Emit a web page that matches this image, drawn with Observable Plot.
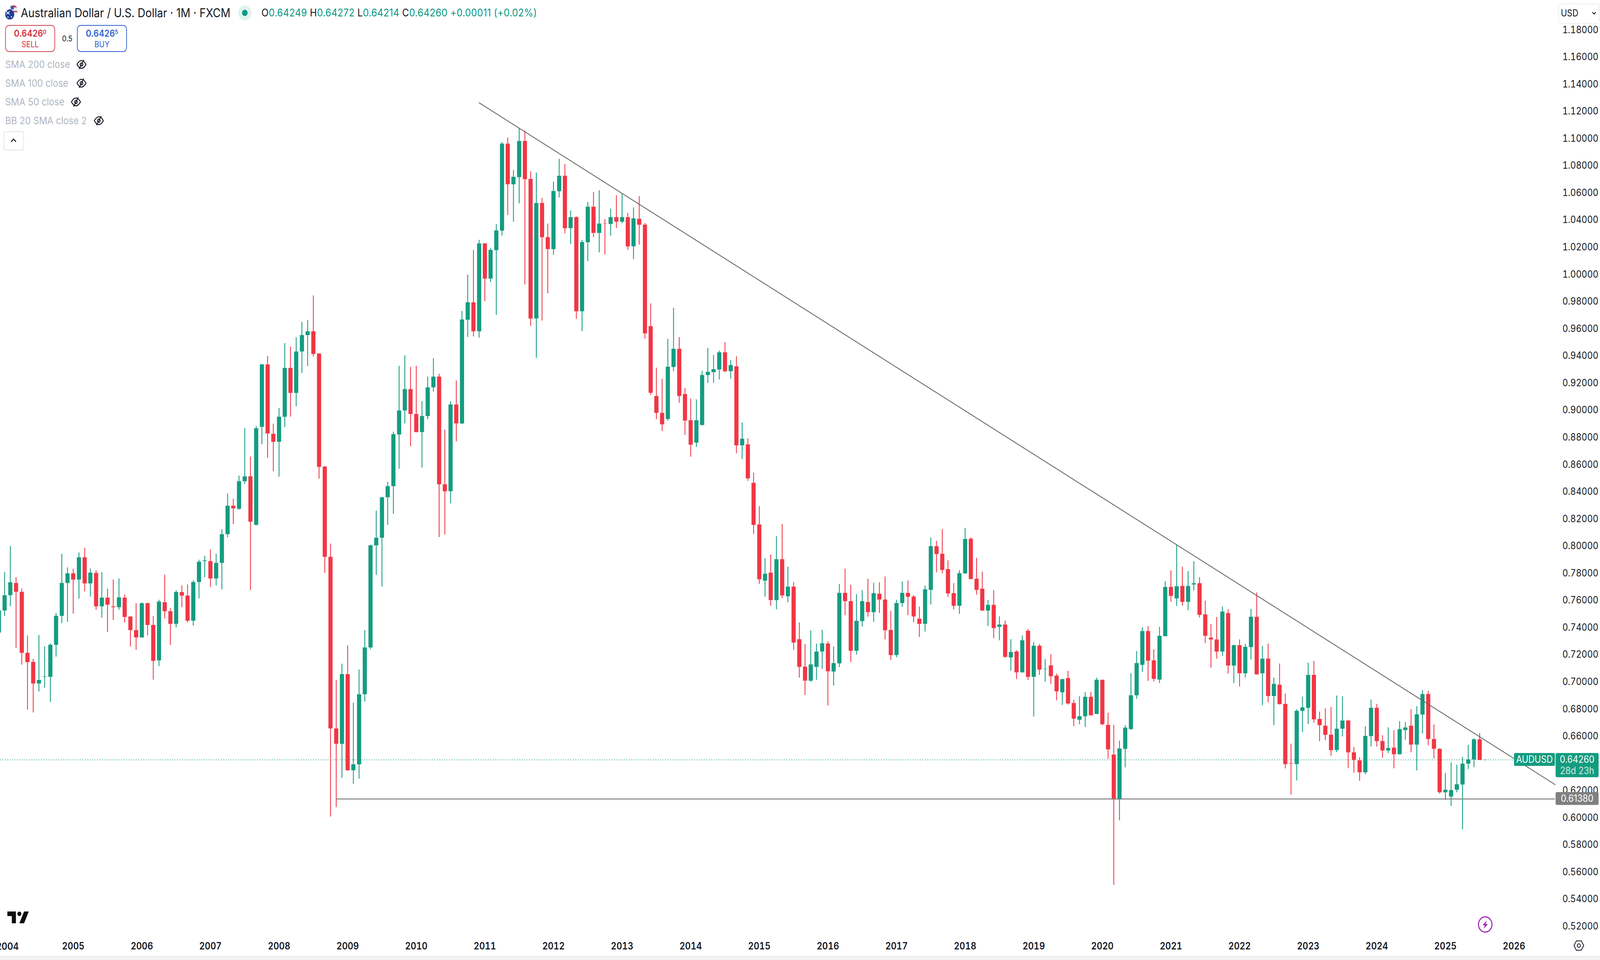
<!DOCTYPE html>
<html lang="en">
<head>
<meta charset="utf-8">
<title>AUDUSD monthly</title>
<script src="https://cdn.jsdelivr.net/npm/d3@7"></script>
<script src="https://cdn.jsdelivr.net/npm/@observablehq/plot@0.6"></script>
<style>
html,body{margin:0;padding:0;background:#fff;overflow:hidden}
#wrap{position:relative;width:4614px;height:2458px;font-family:Inter,"Noto Sans",sans-serif;color:#131722;overflow:hidden;transform-origin:0 0}
#wrap svg.plot-root{display:block}
.a{position:absolute;white-space:nowrap;line-height:1}
.chip{position:absolute;border-radius:4px;color:#fff;font-size:25px;text-align:center}
sup{font-size:.62em;vertical-align:baseline;position:relative;top:-.45em}
</style>
</head>
<body>
<div id="wrap"></div>
<script>
// Monthly candles: first entry is Dec 2003, then Jan 2004 ... Aug 2025
const opens = [.7362,
.7524,.7637,.7727,.7662,.7213,.7146,.6987,.7036,.7036,.7272,.7485,.7727,
.7798,.7752,.7916,.7724,.7801,.7555,.7619,.7555,.7549,.7619,.7480,.7380,
.7326,.7578,.7418,.7157,.7585,.7519,.7426,.7660,.7634,.7449,.7734,.7888,
.7888,.7760,.7875,.8086,.8296,.8273,.8476,.8512,.8155,.8877,.9336,.8825,
.8766,.8951,.9310,.9126,.9431,.9552,.9580,.9416,.8584,.7919,.6656,.6543,
.7056,.6348,.6392,.6908,.7252,.8004,.8060,.8358,.8440,.8820,.8997,.9154,
.8971,.8838,.8956,.9167,.9246,.8453,.8402,.9041,.8901,.9665,.9793,.9580,
1.0227,.9968,1.0177,1.0321,1.0961,1.0662,1.0715,1.0981,1.0702,.9674,1.0524,1.0273,
1.0185,1.0611,1.0725,1.0339,1.0420,.9727,1.0235,1.0497,1.0304,1.0375,1.0370,1.0420,
1.0387,1.0420,1.0205,1.0408,1.0365,.9618,.9103,.8979,.8934,.9317,.9451,.9118,
.8925,.8760,.8890,.9258,.9279,.9299,.9425,.9286,.9322,.8740,.8747,.8464,
.8158,.7744,.7803,.7601,.7902,.7629,.7700,.7313,.7111,.7008,.7109,.7222,
.7281,.7075,.7135,.7654,.7593,.7228,.7446,.7587,.7512,.7648,.7605,.7381,
.7196,.7579,.7654,.7627,.7464,.7426,.7676,.7998,.7942,.7829,.7652,.7559,
.7797,.8052,.7758,.7685,.7524,.7566,.7404,.7421,.7179,.7223,.7069,.7375,
.7036,.7265,.7093,.7120,.7045,.6922,.7027,.6843,.6720,.6746,.6889,.6763,
.7014,.6682,.6464,.6132,.6506,.6651,.6900,.7124,.7373,.7157,.7016,.7335,
.7698,.7613,.7705,.7588,.7716,.7725,.7496,.7325,.7311,.7222,.7505,.7119,
.7269,.7062,.7255,.7478,.7062,.7170,.6895,.6978,.6837,.6400,.6393,.6785,
.6808,.7050,.6726,.6676,.6610,.6497,.6654,.6714,.6480,.6421,.6333,.6600,
.6808,.6563,.6494,.6515,.6466,.6644,.6676,.6537,.6758,.6909,.6578,.6505,
.6186,.6155,.6205,.6243,.6397,.6427,.6576,.64249];
const highs = [.7530,
.7809,.7999,.7770,.7685,.7341,.7169,.7344,.7259,.7282,.7506,.7942,.7842,
.7832,.7952,.7986,.7834,.7821,.7806,.7685,.7752,.7760,.7642,.7482,.7578,
.7583,.7583,.7483,.7603,.7788,.7542,.7673,.7709,.7716,.7747,.7898,.7927,
.7975,.7942,.8122,.8386,.8348,.8517,.8866,.8658,.8882,.9339,.9398,.8900,
.9015,.9493,.9467,.9536,.9649,.9662,.9844,.9418,.8586,.8017,.7013,.7133,
.7267,.6846,.7090,.7380,.8009,.8260,.8361,.8471,.8841,.9326,.9403,.9318,
.9326,.9066,.9246,.9382,.9267,.8856,.9066,.9218,.9730,.9997,1.0179,1.0253,
1.0229,1.0195,1.0369,1.0973,1.1007,1.0768,1.1077,1.1057,1.0758,1.0748,1.0562,1.0373,
1.0682,1.0850,1.0811,1.0469,1.0425,1.0253,1.0532,1.0606,1.0618,1.0405,1.0482,1.0581,
1.0593,1.0451,1.0492,1.0575,1.0377,.9786,.9312,.9230,.9524,.9753,.9537,.9162,
.9085,.9078,.9289,.9458,.9405,.9438,.9500,.9370,.9396,.8908,.8793,.8539,
.8293,.7910,.7936,.8071,.8160,.7847,.7734,.7436,.7278,.7377,.7281,.7383,
.7297,.7258,.7720,.7833,.7714,.7645,.7674,.7758,.7728,.7732,.7775,.7522,
.7603,.7738,.7746,.7637,.7553,.7708,.8063,.8037,.8124,.7894,.7726,.7821,
.8132,.8063,.7912,.7810,.7602,.7674,.7481,.7450,.7313,.7232,.7340,.7388,
.7293,.7278,.7168,.7203,.7060,.7021,.7080,.6867,.6893,.6924,.6926,.7030,
.7016,.6772,.6682,.6566,.6680,.7062,.7226,.7401,.7410,.7239,.7404,.7740,
.7819,.8009,.7846,.7815,.7887,.7769,.7597,.7424,.7476,.7553,.7533,.7273,
.7311,.7279,.7536,.7657,.7264,.7280,.7030,.7134,.6912,.6544,.6798,.6889,
.7140,.7154,.6780,.6804,.6814,.6898,.6893,.6720,.6519,.6444,.6673,.6868,
.6837,.6607,.6664,.6642,.6710,.6703,.6798,.6820,.6939,.6933,.6685,.6512,
.6328,.6406,.6389,.6447,.6535,.6582,.6622,.64272];
const lows = [.7239,
.7483,.7555,.7249,.7126,.6795,.6774,.6928,.6956,.6851,.7185,.7431,.7442,
.7501,.7611,.7665,.7626,.7529,.7472,.7367,.7454,.7529,.7436,.7259,.7234,
.7324,.7341,.7015,.7115,.7465,.7270,.7400,.7549,.7436,.7413,.7614,.7770,
.7698,.7709,.7680,.8063,.8160,.8266,.8456,.7675,.8150,.8748,.8648,.8550,
.8509,.8874,.8951,.9028,.9272,.9323,.9395,.8494,.7801,.6007,.6076,.6292,
.6345,.6248,.6286,.6854,.7239,.7786,.7701,.8155,.8237,.8568,.8902,.8733,
.8835,.8576,.8933,.9136,.8065,.8083,.8314,.8769,.8898,.9538,.9542,.9533,
.9801,.9941,.9700,1.0284,1.0436,1.0387,1.0522,.9925,.9619,.9385,.9659,.9859,
1.0142,1.0565,1.0301,1.0223,.9671,.9580,1.0096,1.0273,1.0161,1.0146,1.0284,1.0340,
1.0375,1.0180,1.0111,1.0217,.9525,.9111,.8933,.8845,.8921,.9286,.9053,.8817,
.8656,.8728,.8888,.9200,.9200,.9225,.9278,.9231,.8682,.8639,.8479,.8087,
.7720,.7625,.7559,.7533,.7615,.7585,.7234,.7030,.6903,.7000,.7014,.7095,
.6825,.6972,.7107,.7490,.7145,.7200,.7406,.7478,.7440,.7506,.7311,.7159,
.7180,.7551,.7490,.7438,.7329,.7369,.7569,.7805,.7797,.7625,.7531,.7500,
.7795,.7754,.7641,.7522,.7410,.7320,.7305,.7175,.7082,.7019,.7067,.7014,
.6744,.7050,.7001,.6984,.6863,.6829,.6831,.6673,.6686,.6667,.6752,.6761,
.6680,.6433,.5505,.5980,.6370,.6647,.6874,.7072,.7006,.7001,.6990,.7335,
.7588,.7558,.7560,.7527,.7672,.7472,.7285,.7104,.7169,.7189,.7060,.6990,
.6965,.7031,.7163,.7053,.6827,.6849,.6680,.6832,.6362,.6169,.6273,.6629,
.6688,.6698,.6562,.6570,.6455,.6482,.6597,.6365,.6330,.6270,.6318,.6523,
.6522,.6441,.6475,.6362,.6465,.6573,.6480,.6347,.6619,.6532,.6434,.6177,
.6130,.6086,.6186,.5913,.6356,.6371,.6424,.64214];
const closes = [.7524,
.7637,.7732,.7662,.7213,.7144,.6987,.7013,.7039,.7272,.7485,.7727,.7798,
.7752,.7916,.7724,.7803,.7555,.7619,.7567,.7549,.7621,.7477,.7380,.7326,
.7578,.7418,.7154,.7590,.7519,.7426,.7660,.7634,.7449,.7734,.7883,.7893,
.7760,.7875,.8086,.8296,.8276,.8476,.8512,.8178,.8866,.9336,.8828,.8766,
.8951,.9310,.9126,.9431,.9552,.9580,.9413,.8581,.7919,.6656,.6543,.7056,
.6348,.6392,.6908,.7252,.8004,.8060,.8358,.8440,.8823,.8997,.9154,.8971,
.8838,.8956,.9167,.9246,.8453,.8402,.9041,.8902,.9667,.9793,.9580,1.0227,
.9968,1.0179,1.0322,1.0961,1.0662,1.0717,1.0981,1.0700,.9674,1.0524,1.0273,1.0185,
1.0613,1.0725,1.0339,1.0420,.9727,1.0237,1.0497,1.0304,1.0373,1.0373,1.0420,1.0387,
1.0420,1.0205,1.0411,1.0364,.9565,.9127,.8979,.8895,.9319,.9451,.9104,.8923,
.8745,.8925,.9258,.9281,.9301,.9425,.9286,.9331,.8740,.8789,.8497,.8154,
.7754,.7795,.7601,.7902,.7635,.7700,.7288,.7109,.7008,.7127,.7222,.7283,
.7077,.7137,.7654,.7593,.7228,.7448,.7593,.7512,.7652,.7605,.7379,.7196,
.7579,.7654,.7625,.7480,.7426,.7680,.7998,.7940,.7823,.7650,.7559,.7799,
.8051,.7756,.7676,.7524,.7566,.7395,.7421,.7183,.7219,.7069,.7305,.7036,
.7265,.7089,.7095,.7041,.6929,.7019,.6840,.6728,.6746,.6889,.6753,.7014,
.6687,.6502,.6132,.6508,.6662,.6900,.7137,.7373,.7155,.7021,.7338,.7698,
.7632,.7703,.7588,.7705,.7725,.7492,.7338,.7311,.7222,.7517,.7119,.7269,
.7062,.7257,.7478,.7054,.7170,.6895,.6984,.6835,.6393,.6397,.6786,.6811,
.7050,.6723,.6680,.6609,.6496,.6654,.6714,.6480,.6425,.6333,.6601,.6808,
.6563,.6494,.6512,.6466,.6651,.6663,.6537,.6760,.6909,.6578,.6506,.6186,
.6205,.6202,.6245,.6397,.6428,.6576,.6424,.64260];
const yearLabels = [2004,2005,2006,2007,2008,2009,2010,2011,2012,2013,2014,2015,2016,2017,2018,2019,2020,2021,2022,2023,2024,2025,2026];
const priceTicks = [.52,.54,.56,.58,.60,.62,.66,.68,.70,.72,.74,.76,.78,.80,.82,.84,.86,.88,.90,.92,.94,.96,.98,1.00,1.02,1.04,1.06,1.08,1.10,1.12,1.14,1.16,1.18];
const lastPrice = 0.6426;
const supportLevel = 0.6138;
const supportStartMonth = 59;
const trendMonths = [84, 272.19];
const trendPrices = [1.1263, 0.6244];

const green = "#149c80", red = "#f23645";
const candles = opens.map((o, m) => ({m, o, h: highs[m], l: lows[m], c: closes[m], col: closes[m] >= o ? green : red}));
const yearMonth = y => 1 + (y - 2004) * 12;

const chart = Plot.plot({
  width: 4614, height: 2458,
  marginLeft: 0, marginRight: 130, marginTop: 0, marginBottom: 63,
  style: {background: "#fff", fontFamily: "Inter, 'Noto Sans', sans-serif", fontSize: "25px", color: "#131722"},
  x: {type: "linear", domain: [0.2237, 272.19], range: [0, 4484]},
  y: {type: "linear", domain: [0.51324, 1.20187], range: [2395, 0]},
  marks: [
    Plot.axisY({anchor: "right", ticks: priceTicks, tickFormat: d3.format(".5f"), tickSize: 0, tickPadding: 21, label: null, fontSize: 25, fill: "#131722"}),
    Plot.axisX({anchor: "bottom", ticks: yearLabels.slice(1).map(yearMonth), tickFormat: d => String(2004 + (d - 1) / 12), tickSize: 0, tickPadding: 18, label: null, fontSize: 25, fontWeight: 600, fill: "#131722"}),
    Plot.ruleY([lastPrice], {x1: 0.2237, x2: 272.19, stroke: green, strokeWidth: 2, strokeDasharray: "2 5"}),
    Plot.ruleX(candles, {x: "m", y1: "l", y2: "h", stroke: "col", strokeWidth: 2.4}),
    Plot.ruleX(candles, {x: "m", y1: "o", y2: "c", stroke: "col", strokeWidth: 12}),
    Plot.ruleY([supportLevel], {x1: supportStartMonth, x2: 272.19, stroke: "#808080", strokeWidth: 2.4}),
    Plot.line(trendMonths.map((m, i) => ({m, p: trendPrices[i]})), {x: "m", y: "p", stroke: "#666", strokeWidth: 2.2})
  ]
});
const wrap = document.getElementById("wrap");
wrap.appendChild(chart);
const yPx = chart.scale("y").apply;
// The window can be narrower than the 4614 px chart: fit the whole chart to its width.
if (window.innerWidth < 4614) wrap.style.transform = `scaleX(${window.innerWidth / 4614})`;

const eye = (x, y) => `<svg class="a" style="left:${x-16}px;top:${y-14}px" width="32" height="28" viewBox="0 0 32 28" fill="none" stroke="#131722" stroke-width="2.4"><path d="M3 14C8 6 12 4 16 4s8 2 13 10c-5 8-9 10-13 10S8 22 3 14Z"/><circle cx="16" cy="14" r="4"/><path d="M23 2 9 26"/></svg>`;
const label = (txt, y) => `<div class="a" style="left:15px;top:${y-13}px;font-size:26px;color:#b2b5be">${txt}</div>`;
const v = s => `<span style="color:#089981">${s}</span>`;
const chrome = `
<svg class="a" style="left:14px;top:13px" width="38" height="38" viewBox="0 0 38 38">
  <circle cx="25" cy="13" r="12" fill="#e9e9ef"/><path d="M15 6a12 12 0 0 1 20 0ZM14 15h22v3H14Z" fill="#d8374a"/><rect x="17" y="2" width="9" height="9" fill="#2f5fb3"/>
  <circle cx="14" cy="24" r="13" fill="#1f3f95"/><path d="M4 16 14 24M14 16 4 24" stroke="#fff" stroke-width="2"/><circle cx="19" cy="30" r="1.8" fill="#fff"/><circle cx="9" cy="31" r="1.8" fill="#fff"/>
</svg>
<div class="a" style="left:60px;top:17px;font-size:31px">Australian Dollar / U.S. Dollar · 1M · FXCM</div>
<div class="a" style="left:687px;top:14px;width:38px;height:38px;border-radius:50%;background:#dff3ee"></div>
<div class="a" style="left:698px;top:25px;width:16px;height:16px;border-radius:50%;background:#089981"></div>
<div class="a" style="left:754px;top:19px;font-size:27px;letter-spacing:.4px">O${v("0.64249")} H${v("0.64272")} L${v("0.64214")} C${v("0.64260")} ${v("+0.00011 (+0.02%)")}</div>
<div class="a" style="left:15px;top:64px;width:140px;height:65px;border:2.5px solid #d5444f;border-radius:11px;color:#d5303f;text-align:center">
  <div style="font-size:24px;font-weight:600;margin-top:8px">0.6426<sup>0</sup></div><div style="font-size:21px;margin-top:5px">SELL</div></div>
<div class="a" style="left:179px;top:89px;font-size:20px">0.5</div>
<div class="a" style="left:222px;top:64px;width:140px;height:65px;border:2.5px solid #2f62d0;border-radius:11px;color:#2f62d0;text-align:center">
  <div style="font-size:24px;font-weight:600;margin-top:8px">0.6426<sup>5</sup></div><div style="font-size:21px;margin-top:5px">BUY</div></div>
${label("SMA 200 close",165)}${eye(235,165)}
${label("SMA 100 close",213)}${eye(235,213)}
${label("SMA 50 close",261)}${eye(219,261)}
${label("BB 20 SMA close 2",309)}${eye(285,309)}
<div class="a" style="left:10px;top:336px;width:55px;height:45px;border:2px solid #e0e3eb;border-radius:6px"></div>
<svg class="a" style="left:29px;top:352px" width="20" height="14" viewBox="0 0 20 14" fill="none" stroke="#131722" stroke-width="2.6"><path d="M3 11 10 4l7 7"/></svg>
<div class="a" style="left:4493px;top:9px;width:116px;height:48px;border:2px solid #eceef2;border-radius:8px"></div>
<div class="a" style="left:4501px;top:22px;font-size:24px">USD</div>
<svg class="a" style="left:4590px;top:28px" width="14" height="12" viewBox="0 0 14 12" fill="none" stroke="#131722" stroke-width="2.4"><path d="M2 3l5 5 5-5"/></svg>
<div class="chip" style="left:4366px;top:${yPx(lastPrice)-17}px;width:118px;height:33px;line-height:33px;background:#149c80">AUDUSD</div>
<div class="chip" style="left:4486px;top:${yPx(lastPrice)-17}px;width:124px;height:62px;background:#149c80;line-height:1;padding-top:4px;box-sizing:border-box">${lastPrice.toFixed(5)}<div style="opacity:.8;margin-top:4px">28d 23h</div></div>
<div class="chip" style="left:4486px;top:${yPx(supportLevel)-17}px;width:124px;height:33px;line-height:33px;background:#808080">${supportLevel.toFixed(5)}</div>
<div class="a" style="left:-11px;top:2411px;font-size:25px;font-weight:600;clip-path:inset(0 0 0 11px)">2004</div>
<svg class="a" style="left:21px;top:2333px" width="62" height="31" viewBox="48 160 137 92" preserveAspectRatio="none"><path d="M48 162h55v90H77v-55H48Z" fill="#0f0f0f"/><ellipse cx="125" cy="180" rx="13" ry="17" fill="#0f0f0f"/><path d="M155 162h30l-30 90h-30Z" fill="#0f0f0f"/></svg>
<svg class="a" style="left:4261px;top:2345px" width="44" height="44" viewBox="0 0 44 44" fill="none"><circle cx="22" cy="22" r="19.5" stroke="#9c27b0" stroke-width="3"/><path d="M27 12 14 24h7l-4 9 13-12h-7Z" fill="#9c27b0"/></svg>
<svg class="a" style="left:4537px;top:2407px" width="32" height="28" viewBox="0 0 32 28" fill="none" stroke="#131722" stroke-width="2.2"><path d="M9 2h14l7 12-7 12H9L2 14Z"/><circle cx="16" cy="14" r="4.5"/></svg>
<div class="a" style="left:0;top:2448px;width:4614px;height:10px;background:#f3f3f4;border-top:2px solid #e6e6e8;box-sizing:border-box"></div>
`;
wrap.insertAdjacentHTML("beforeend", chrome);
</script>
</body>
</html>
